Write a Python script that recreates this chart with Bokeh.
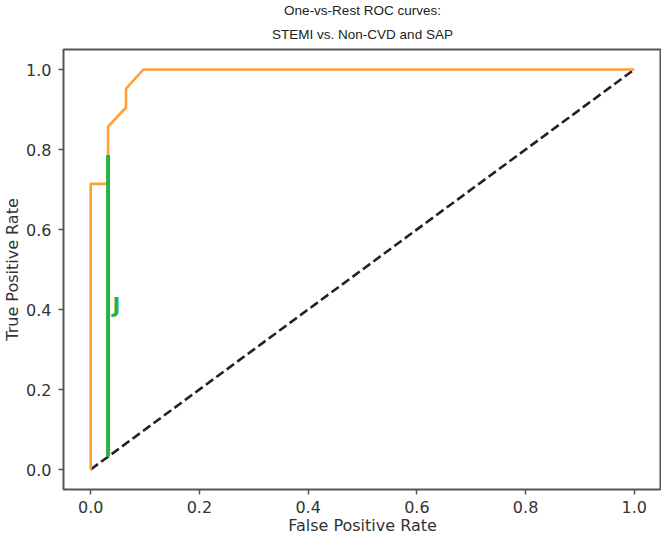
from bokeh.plotting import figure
from bokeh.models import Title, FixedTicker, PrintfTickFormatter, Range1d
from bokeh.core.properties import value
from bokeh.embed import file_html
from bokeh.resources import INLINE

# ROC curve (STEMI vs rest)
fpr = [0.0, 0.0, 0.032, 0.032, 0.065, 0.065, 0.097, 1.0]
tpr = [0.0, 0.714, 0.714, 0.857, 0.905, 0.952, 1.0, 1.0]
# chance diagonal
diag_x = [0.0, 1.0]
diag_y = [0.0, 1.0]
# Youden J segment
j_x = [0.032, 0.032]
j_y = [0.032, 0.786]
j_label_x = [0.040]
j_label_y = [0.41]
j_label = ["J"]
ticks = [0.0, 0.2, 0.4, 0.6, 0.8, 1.0]

p = figure(width=661, height=537, output_backend="svg", toolbar_location=None,
           x_range=Range1d(-0.05, 1.05), y_range=Range1d(-0.05, 1.05),
           min_border_left=55, min_border_right=0, min_border_top=39, min_border_bottom=46)
p.title = None

t2 = Title(text="STEMI vs. Non-CVD and SAP", align="center", text_font="Liberation Sans",
           text_font_size="13.5px", text_font_style="normal", text_color="#222222", standoff=15)
t1 = Title(text="One-vs-Rest ROC curves:", align="center", text_font="Liberation Sans",
           text_font_size="13.5px", text_font_style="normal", text_color="#222222", standoff=0)
p.add_layout(t2, "above")
p.add_layout(t1, "above")

p.line(diag_x, diag_y, line_color="#222222", line_width=2.6, line_dash="9 4")
p.line(fpr, tpr, line_color="#ffa030", line_width=2.6)
p.line(j_x, j_y, line_color="#28b04a", line_width=4)
p.text(j_label_x, j_label_y, text=j_label, text_color="#28b04a", text_font=value("DejaVu Sans"),
       text_font_size="21px", text_font_style="bold", text_baseline="middle", text_align="left")

p.xgrid.visible = False
p.ygrid.visible = False
p.outline_line_color = "#555555"
p.outline_line_width = 2
p.background_fill_color = "white"
p.border_fill_color = "white"

for ax in (p.xaxis, p.yaxis):
    ax.ticker = FixedTicker(ticks=ticks)
    ax.formatter = PrintfTickFormatter(format="%.1f")
    ax.axis_line_color = None
    ax.major_tick_line_color = "#555555"
    ax.major_tick_line_width = 1.5
    ax.major_tick_out = 5
    ax.major_tick_in = 0
    ax.minor_tick_line_color = None
    ax.major_label_text_font = "DejaVu Sans"
    ax.major_label_text_font_size = "16px"
    ax.major_label_text_color = "#333333"
    ax.axis_label_text_font = "DejaVu Sans"
    ax.axis_label_text_font_size = "16px"
    ax.axis_label_text_font_style = "normal"
    ax.axis_label_text_color = "#333333"

p.xaxis.axis_label = "False Positive Rate"
p.yaxis.axis_label = "True Positive Rate"
p.xaxis.major_label_standoff = 6
p.yaxis.major_label_standoff = 7
p.xaxis.axis_label_standoff = 0
p.yaxis.axis_label_standoff = 1

open("out.html", "w").write(file_html(p, INLINE))
